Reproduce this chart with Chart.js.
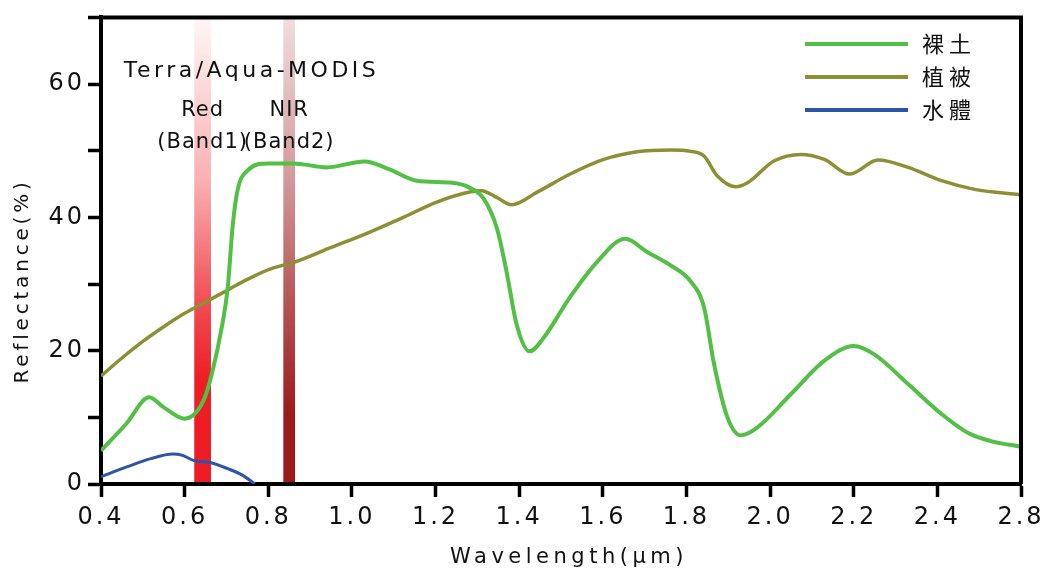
<!DOCTYPE html>
<html>
<head>
<meta charset="utf-8">
<script src="https://cdn.jsdelivr.net/npm/chart.js@4.4.1/dist/chart.umd.min.js"></script>
<style>
  html, body { margin: 0; padding: 0; background: #fff; }
</style>
</head>
<body>
<canvas id="spectra" width="1049" height="575"></canvas>
<script>
// reflectance curves (wavelength in µm, reflectance in %)
const seriesNames = ['裸土', '植被', '水體'];

const soilX = [0.40, 0.46, 0.515, 0.55, 0.60, 0.645, 0.665, 0.69, 0.703, 0.715, 0.727, 0.75, 0.80, 0.86, 0.94, 1.03, 1.09, 1.155, 1.24, 1.28, 1.315, 1.347, 1.37, 1.394, 1.425, 1.458, 1.52, 1.586, 1.654, 1.706, 1.762, 1.81, 1.842, 1.866, 1.898, 1.93, 1.97, 2.05, 2.13, 2.20, 2.25, 2.33, 2.41, 2.475, 2.53, 2.60];
const soilY = [5.0, 9.0, 13.0, 11.5, 9.8, 12.5, 16.5, 23.9, 29.4, 38.8, 44.2, 47.0, 48.1, 48.1, 47.5, 48.4, 47.2, 45.5, 45.2, 44.5, 42.8, 38.3, 31.8, 23.9, 19.9, 21.9, 27.9, 33.3, 36.8, 34.8, 32.8, 30.4, 26.5, 18.0, 10.0, 7.3, 8.5, 13.5, 18.5, 20.7, 19.4, 15.0, 10.5, 7.6, 6.4, 5.6];

const vegX = [0.40, 0.45, 0.50, 0.55, 0.60, 0.65, 0.70, 0.75, 0.807, 0.863, 0.943, 1.043, 1.123, 1.203, 1.282, 1.31, 1.346, 1.382, 1.442, 1.522, 1.602, 1.682, 1.762, 1.81, 1.842, 1.874, 1.918, 1.946, 2.01, 2.074, 2.13, 2.19, 2.258, 2.33, 2.41, 2.489, 2.60];
const vegY = [16.2, 18.9, 21.4, 23.6, 25.6, 27.3, 29.0, 30.7, 32.3, 33.3, 35.3, 37.8, 40.0, 42.3, 43.8, 44.0, 43.0, 41.9, 43.75, 46.5, 48.7, 49.85, 50.1, 49.9, 49.2, 46.2, 44.6, 45.2, 48.5, 49.45, 48.7, 46.5, 48.6, 47.5, 45.5, 44.2, 43.4];

const waterX = [0.40, 0.463, 0.519, 0.571, 0.595, 0.623, 0.663, 0.703, 0.739, 0.768];
const waterY = [1.1, 2.6, 3.8, 4.5, 4.3, 3.5, 3.2, 2.3, 1.3, 0];

// MODIS bands (µm)
const bandNames = ['Red', 'NIR'];
const bandSubs = ['(Band1)', '(Band2)'];
const bandStart = [0.623, 0.836];
const bandEnd = [0.663, 0.864];
const sensorName = 'Terra/Aqua-MODIS';

// axis ticks
const xTickLabels = ['0.4', '0.6', '0.8', '1.0', '1.2', '1.4', '1.6', '1.8', '2.0', '2.2', '2.4', '2.8'];
const yTickLabels = ['0', '20', '40', '60'];
const xTitle = 'Wavelength(μm)';
const yTitle = 'Reflectance(%)';

const lineColors = ['#52bf45', '#8a9033', '#2c54a8'];
const lineWidths = [4, 3.5, 3];
const bandRGB = ['238,28,36', '155,27,30'];
const bandStops = [
	[[0, 0.04], [0.35, 0.35], [0.61, 0.78], [0.78, 1], [1, 1]],
	[[0, 0.15], [0.35, 0.45], [0.61, 0.75], [0.85, 1], [1, 1]]
];

const pts = (xs, ys) => xs.map((x, i) => ({ x, y: ys[i] }));
const font = "'DejaVu Sans', sans-serif";

const decor = {
	id: 'decor',
	beforeDraw(chart) {
		chart.ctx.letterSpacing = '3px';
	},
	beforeDatasetsDraw(chart) {
		const { ctx, chartArea: a, scales: { x } } = chart;
		ctx.save();
		bandNames.forEach((n, i) => {
			const x0 = x.getPixelForValue(bandStart[i]);
			const x1 = x.getPixelForValue(bandEnd[i]);
			const g = ctx.createLinearGradient(0, a.top, 0, a.bottom);
			bandStops[i].forEach(([p, al]) => g.addColorStop(p, `rgba(${bandRGB[i]},${al})`));
			ctx.fillStyle = g;
			ctx.fillRect(x0, a.top + 2, x1 - x0, a.bottom - a.top - 4);
		});
		ctx.restore();
	},
	afterDraw(chart) {
		const { ctx, chartArea: a, scales: { x, y } } = chart;
		ctx.save();
		// top and right frame
		ctx.strokeStyle = '#000';
		ctx.lineWidth = 4;
		ctx.beginPath();
		ctx.moveTo(a.left, a.top);
		ctx.lineTo(a.right, a.top);
		ctx.lineTo(a.right, a.bottom);
		ctx.stroke();

		ctx.fillStyle = '#111';
		ctx.textAlign = 'center';
		ctx.textBaseline = 'middle';

		// band labels
		ctx.letterSpacing = '3.5px';
		ctx.font = `22px ${font}`;
		ctx.fillText(sensorName, x.getPixelForValue(0.76), y.getPixelForValue(61.9));
		ctx.letterSpacing = '1px';
		ctx.font = `21px ${font}`;
		bandNames.forEach((n, i) => {
			const cx = x.getPixelForValue((bandStart[i] + bandEnd[i]) / 2);
			ctx.fillText(n, cx, y.getPixelForValue(56.1));
			ctx.fillText(bandSubs[i], cx, y.getPixelForValue(51.3));
		});

		// axis titles
		ctx.letterSpacing = '4.5px';
		ctx.font = `21px ${font}`;
		ctx.fillText(xTitle, 569, 558);
		ctx.save();
		ctx.translate(23, 281);
		ctx.rotate(-Math.PI / 2);
		ctx.letterSpacing = '3.8px';
		ctx.font = `20px ${font}`;
		ctx.fillText(yTitle, 0, 0);
		ctx.restore();

		// legend
		ctx.textAlign = 'left';
		ctx.letterSpacing = '5px';
		ctx.font = `22px 'Noto Sans CJK TC', sans-serif`;
		chart.data.datasets.forEach((ds, i) => {
			const ly = 44 + i * 33;
			ctx.strokeStyle = ds.borderColor;
			ctx.lineWidth = 4;
			ctx.beginPath();
			ctx.moveTo(805, ly);
			ctx.lineTo(908, ly);
			ctx.stroke();
			ctx.fillText(ds.label, 922, ly);
		});
		ctx.restore();
	}
};

new Chart(document.getElementById('spectra'), {
	type: 'line',
	data: {
		datasets: [
			{ label: seriesNames[0], data: pts(soilX, soilY) },
			{ label: seriesNames[1], data: pts(vegX, vegY) },
			{ label: seriesNames[2], data: pts(waterX, waterY) }
		].map((d, i) => ({
			...d,
			borderColor: lineColors[i],
			borderWidth: lineWidths[i],
			pointRadius: 0,
			cubicInterpolationMode: 'monotone',
			fill: false
		}))
	},
	options: {
		responsive: false,
		animation: false,
		events: [],
		layout: { padding: { top: 15, right: 28, bottom: 0, left: 0 } },
		plugins: { legend: { display: false }, tooltip: { enabled: false } },
		scales: {
			x: {
				type: 'linear',
				min: 0.4,
				max: 2.6,
				afterFit: (s) => { s.height = 91; },
				border: { display: true, color: '#000', width: 4 },
				grid: { drawOnChartArea: false, drawTicks: true, tickLength: 13, tickWidth: 3.5, tickColor: '#000' },
				ticks: {
					stepSize: 0.2,
					autoSkip: false,
					maxRotation: 0,
					padding: 6,
					color: '#111',
					font: { family: font, size: 24 },
					callback: (v, i) => xTickLabels[i]
				}
			},
			y: {
				min: 0,
				max: 70,
				afterFit: (s) => { s.width = 101; },
				border: { display: true, color: '#000', width: 4 },
				grid: { drawOnChartArea: false, drawTicks: true, tickLength: 13, tickWidth: 3.5, tickColor: '#000' },
				ticks: {
					stepSize: 10,
					padding: 3,
					color: '#111',
					font: { family: font, size: 24 },
					callback: (v) => yTickLabels.includes(String(v)) ? String(v) : ''
				}
			}
		}
	},
	plugins: [decor]
});
</script>
</body>
</html>
